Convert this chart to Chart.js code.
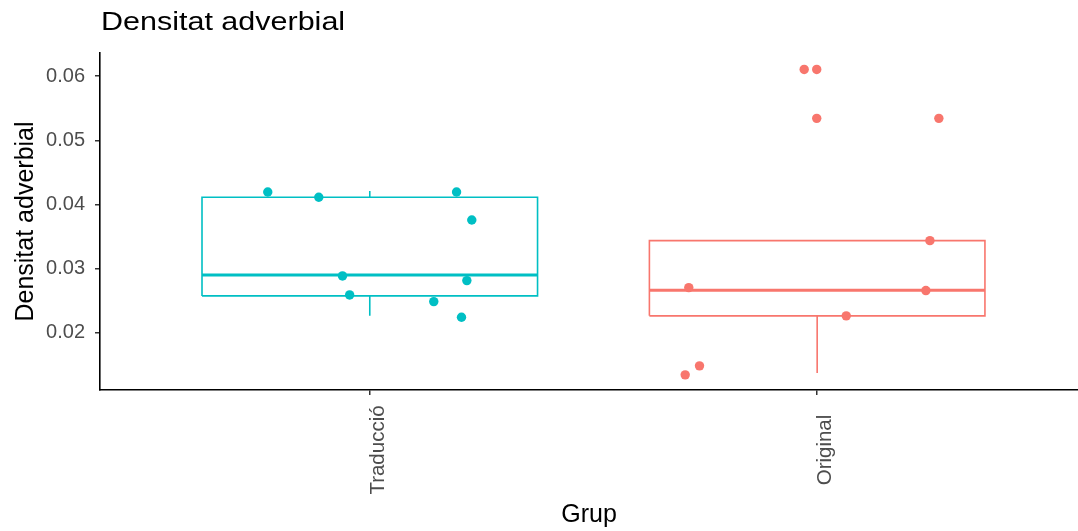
<!DOCTYPE html>
<html>
<head>
<meta charset="utf-8">
<title>Densitat adverbial</title>
<script src="https://cdn.jsdelivr.net/npm/chart.js@4.4.1/dist/chart.umd.min.js"></script>
<style>
  html, body { margin: 0; padding: 0; background: #ffffff; overflow: hidden; }
  #wrap { width: 1078px; height: 531px; }
</style>
</head>
<body>
<div id="wrap"><canvas id="chart" width="1078" height="531"></canvas></div>
<script>
// Groups on the x axis (positions 1, 2)
const groups = ['Traducció', 'Original'];
const groupColors = ['#00BFC4', '#F8766D'];

// Box statistics per group
const boxMin    = [0.02265, 0.01373];
const boxQ1     = [0.02576, 0.02265];
const boxMedian = [0.02900, 0.02665];
const boxQ3     = [0.04112, 0.03437];
const boxMax    = [0.04210, 0.03437];

// Jittered observations, Traducció
const tradX = [0.772, 0.886, 1.194, 1.228, 0.939, 1.217, 0.955, 1.143, 1.205];
const tradY = [0.04195, 0.04112, 0.04195, 0.03759, 0.02887, 0.02814, 0.02591, 0.02487, 0.02244];

// Jittered observations, Original
const origX = [1.971, 1.999, 1.999, 2.272, 2.252, 1.713, 2.243, 2.065, 1.737, 1.705];
const origY = [0.06104, 0.06104, 0.05342, 0.05342, 0.03437, 0.02705, 0.02659, 0.02265, 0.01486, 0.01346];

// Y axis ticks
const yTicks = [0.02, 0.03, 0.04, 0.05, 0.06];

const BOX_HALF = 0.375;

const zip = (xs, ys) => xs.map((x, i) => ({ x: x, y: ys[i] }));

const datasets = [];

// Points, drawn above the boxes
datasets.push({
  type: 'scatter', label: groups[0], data: zip(tradX, tradY),
  backgroundColor: groupColors[0], borderColor: groupColors[0],
  pointRadius: 4.7, pointBorderWidth: 0, order: 0
});
datasets.push({
  type: 'scatter', label: groups[1], data: zip(origX, origY),
  backgroundColor: groupColors[1], borderColor: groupColors[1],
  pointRadius: 4.7, pointBorderWidth: 0, order: 0
});

// Boxes, medians and whiskers as line segments
groups.forEach((g, i) => {
  const c = i + 1;
  const col = groupColors[i];
  const seg = (pts, w) => datasets.push({
    type: 'line', label: g, data: pts, borderColor: col, borderWidth: w,
    pointRadius: 0, fill: false, tension: 0, order: 1
  });
  seg([
    { x: c - BOX_HALF, y: boxQ1[i] }, { x: c + BOX_HALF, y: boxQ1[i] },
    { x: c + BOX_HALF, y: boxQ3[i] }, { x: c - BOX_HALF, y: boxQ3[i] },
    { x: c - BOX_HALF, y: boxQ1[i] }
  ], 1.6);
  seg([{ x: c - BOX_HALF, y: boxMedian[i] }, { x: c + BOX_HALF, y: boxMedian[i] }], 3);
  if (boxMax[i] > boxQ3[i]) seg([{ x: c, y: boxQ3[i] }, { x: c, y: boxMax[i] }], 1.6);
  if (boxMin[i] < boxQ1[i]) seg([{ x: c, y: boxQ1[i] }, { x: c, y: boxMin[i] }], 1.6);
});

// Plot title and rotated, centred group labels
const textPlugin = {
  id: 'textPlugin',
  afterDraw(chart) {
    const ctx = chart.ctx;
    const area = chart.chartArea;
    ctx.save();
    ctx.fillStyle = '#000000';
    ctx.font = '25px "Liberation Sans", Arial, sans-serif';
    ctx.textAlign = 'left';
    ctx.textBaseline = 'alphabetic';
    ctx.translate(area.left + 1, 30);
    ctx.scale(1.22, 1);
    ctx.fillText('Densitat adverbial', 0, 0);
    ctx.restore();

    const xs = chart.scales.x;
    ctx.save();
    ctx.fillStyle = '#4D4D4D';
    ctx.font = '20.5px "Liberation Sans", Arial, sans-serif';
    ctx.textAlign = 'center';
    ctx.textBaseline = 'middle';
    groups.forEach((g, i) => {
      const px = xs.getPixelForValue(i + 1);
      ctx.save();
      ctx.translate(px + 8.5, area.bottom + 60);
      ctx.rotate(-Math.PI / 2);
      ctx.fillText(g, 0, 0);
      ctx.restore();
    });
    ctx.restore();
  }
};

new Chart(document.getElementById('chart'), {
  type: 'scatter',
  data: { datasets: datasets },
  options: {
    responsive: false,
    animation: false,
    layout: { autoPadding: false, padding: { top: 53, left: 0, right: 0, bottom: 0 } },
    plugins: {
      legend: { display: false },
      tooltip: { enabled: false },
      title: { display: false }
    },
    scales: {
      x: {
        type: 'linear',
        min: 0.397,
        max: 2.583,
        afterBuildTicks: (scale) => { scale.ticks = groups.map((g, i) => ({ value: i + 1 })); },
        afterFit: (scale) => { scale.height = 141; },
        ticks: { display: false },
        grid: { display: true, drawOnChartArea: false, drawTicks: true, tickLength: 5, color: '#333333', lineWidth: 1.5 },
        border: { display: true, color: '#000000', width: 1.6 },
        title: {
          display: true, text: 'Grup', color: '#000000',
          font: { family: '"Liberation Sans", Arial, sans-serif', size: 25 },
          padding: { top: 0, bottom: 1 }
        }
      },
      y: {
        type: 'linear',
        min: 0.0111,
        max: 0.0636,
        afterBuildTicks: (scale) => { scale.ticks = yTicks.map(v => ({ value: v })); },
        afterFit: (scale) => { scale.width = 100; },
        ticks: {
          color: '#4D4D4D',
          font: { family: '"Liberation Sans", Arial, sans-serif', size: 20 },
          padding: 10,
          callback: (v) => v.toFixed(2)
        },
        grid: { display: true, drawOnChartArea: false, drawTicks: true, tickLength: 5, color: '#333333', lineWidth: 1.5 },
        border: { display: true, color: '#000000', width: 1.6 },
        title: {
          display: true, text: 'Densitat adverbial', color: '#000000',
          font: { family: '"Liberation Sans", Arial, sans-serif', size: 25 },
          padding: { top: 11, bottom: 0 }
        }
      }
    }
  },
  plugins: [textPlugin]
});
</script>
</body>
</html>
